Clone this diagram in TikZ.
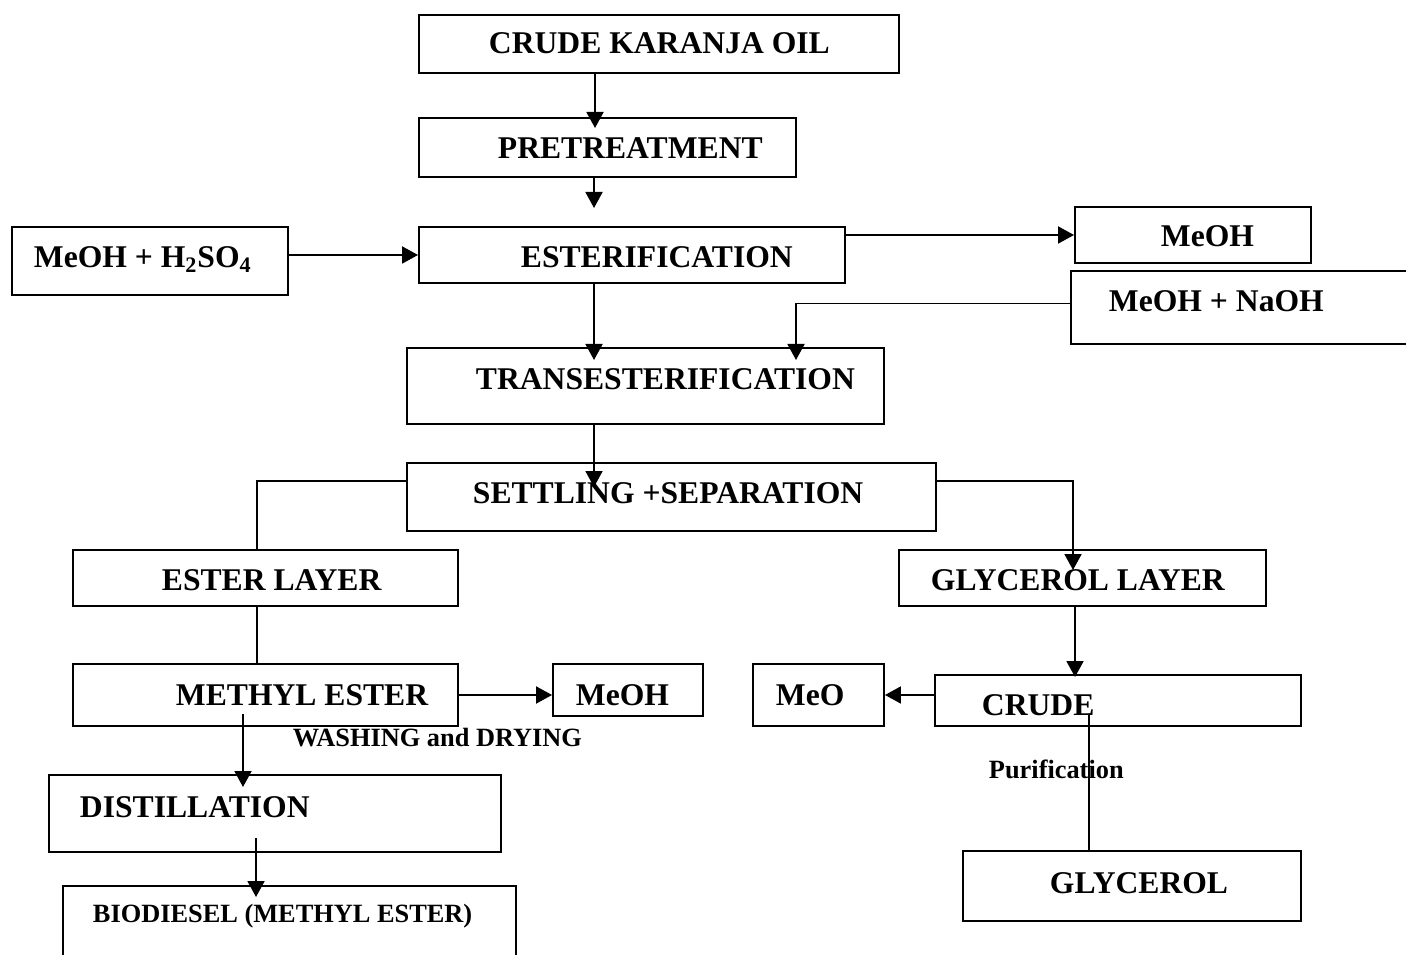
\documentclass[tikz,border=0pt]{standalone}
\usepackage{fontspec}
\setmainfont{Liberation Serif}
\usetikzlibrary{fit,arrows.meta}

\begin{document}
\begin{tikzpicture}[x=0.02cm, y=-0.02cm, >={Triangle[length=3.2mm,width=3.4mm]}, line width=1.1pt]
    \tikzstyle{box}=[rectangle,draw,inner sep=0pt]
    \tikzstyle{lbl}=[anchor=base west,inner sep=0pt,font=\bfseries\fontsize{18}{20}\selectfont]
    \tikzstyle{small}=[lbl,font=\bfseries\fontsize{15}{17}\selectfont]
    \clip (0,0) rectangle (1406,955);
    % boxes
    \node[box,fit={(419,15) (899,73)}] (crude){};
    \node[box,fit={(419,118) (796,177)}] (pre){};
    \node[box,fit={(12,227) (288,295)}] (acid){};
    \node[box,fit={(419,227) (845,283)}] (ester){};
    \node[box,fit={(1075,207) (1311,263)}] (meoh){};
    \node[box,fit={(1071,271) (1430,344)}] (naoh){};
    \node[box,fit={(407,348) (884,424)}] (trans){};
    \node[box,fit={(407,463) (936,531)}] (settle){};
    \node[box,fit={(73,550) (458,606)}] (esterl){};
    \node[box,fit={(899,550) (1266,606)}] (glyl){};
    \node[box,fit={(73,664) (458,726)}] (methyl){};
    \node[box,fit={(553,664) (703,716)}] (meohb){};
    \node[box,fit={(49,775) (501,852)}] (distill){};
    \node[box,fit={(63,886) (516,990)}] (bio){};
    \node[box,fit={(753,664) (884,726)}] (meo){};
    \node[box,fit={(935,675) (1301,726)}] (crudeg){};
    \node[box,fit={(963,851) (1301,921)}] (glycerol){};
    % texts
    \node[lbl] (crude-t) at (488,54) {CRUDE KARANJA OIL};
    \node[lbl] (pre-t) at (497,159) {PRETREATMENT};
    \node[lbl] (acid-t) at (33,268) {MeOH + H\textsubscript{2}SO\textsubscript{4}};
    \node[lbl] (ester-t) at (520,268) {ESTERIFICATION};
    \node[lbl] (meoh-t) at (1160,247) {MeOH};
    \node[lbl] (naoh-t) at (1108,312) {MeOH + NaOH};
    \node[lbl] (trans-t) at (475,390) {TRANSESTERIFICATION};
    \node[lbl] (settle-t) at (472,504) {SETTLING +SEPARATION};
    \node[lbl] (esterl-t) at (161,591) {ESTER LAYER};
    \node[lbl] (glyl-t) at (930,591) {GLYCEROL LAYER};
    \node[lbl] (methyl-t) at (175,705) {METHYL ESTER};
    \node[lbl] (meohb-t) at (575,705) {MeOH};
    \node[small] (wash-t) at (292,746) {WASHING and DRYING};
    \node[lbl] (distill-t) at (79,817) {DISTILLATION};
    \node[small] (bio-t) at (92,922) {BIODIESEL (METHYL ESTER)};
    \node[lbl] (meo-t) at (775,705) {MeO};
    \node[lbl] (crudeg-t) at (981,715) {CRUDE};
    \node[small] (purif-t) at (988,778) {Purification};
    \node[lbl] (glycerol-t) at (1049,893) {GLYCEROL};
    % arrow tips and columns
    \coordinate (t1) at (595,128);
    \coordinate (t2) at (594,208);
    \coordinate (t5) at (594,360);
    \coordinate (t6) at (796,360);
    \coordinate (t7) at (594,487);
    \coordinate (t9) at (1073,570);
    \coordinate (t10) at (1075,677);
    \coordinate (t13) at (243,787);
    \coordinate (t14) at (256,897);
    \coordinate (lx) at (257,0);
    \coordinate (gx) at (1089,0);
    % connectors
    \draw[->](t1 |- crude.south)--(t1);
    \draw[->](t2 |- pre.south)--(t2);
    \draw[->](acid.east |- ester.west)--(ester.west);
    \draw[->](ester.east |- meoh.west)--(meoh.west);
    \draw[->](t5 |- ester.south)--(t5);
    \draw[->]([yshift=0.08cm]naoh.west)-|(t6);
    \draw[->](t7 |- trans.south)--(t7);
    \draw([yshift=0.32cm]settle.west)-|(lx |- esterl.north);
    \draw[->]([yshift=0.32cm]settle.east)-|(t9);
    \draw[->](t10 |- glyl.south)--(t10);
    \draw(lx |- esterl.south)--(lx |- methyl.north);
    \draw[->](methyl.east)--(methyl.east -| meohb.west);
    \draw[->]([yshift=0.26cm]t13 |- methyl.south)--(t13);
    \draw[->]([yshift=0.3cm]t14 |- distill.south)--(t14);
    \draw[->](crudeg.west |- meo.east)--(meo.east);
    \draw([yshift=0.24cm]gx |- crudeg.south)--(gx |- glycerol.north);
\end{tikzpicture}
\end{document}
